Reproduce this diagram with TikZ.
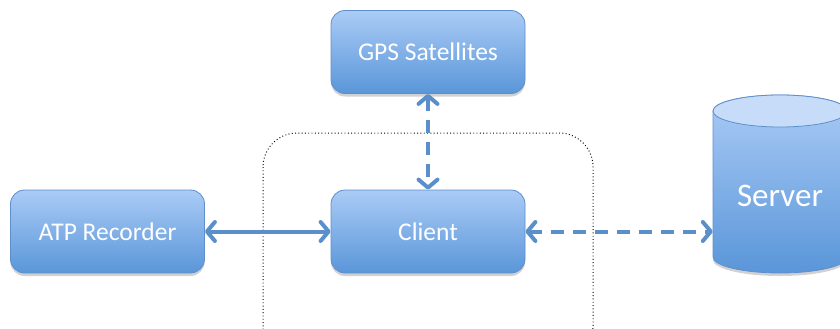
\documentclass[tikz,border=0pt]{standalone}
\usepackage{fontspec}
\setmainfont{Carlito}
\usetikzlibrary{arrows.meta,shadows}
\definecolor{boxtop}{HTML}{AACBF6}
\definecolor{boxbot}{HTML}{5A96D9}
\definecolor{boxline}{HTML}{5F8FCB}
\definecolor{linkcol}{HTML}{5B8FCA}
\definecolor{captop}{HTML}{C6DCF8}
\tikzset{
  unitbox/.style={rectangle, rounded corners=14pt, draw=boxline, line width=0.8pt,
    top color=boxtop, bottom color=boxbot, text=white, font=\fontsize{25.5}{28}\selectfont,
    minimum width=194pt, minimum height=83pt,
    drop shadow={shadow xshift=0pt, shadow yshift=-3pt, opacity=0.18, fill=black}},
  link/.style={draw=linkcol, line width=4pt,
    {Straight Barb[round,length=8pt,width=19pt]}-{Straight Barb[round,length=8pt,width=19pt]}},
  dashedlink/.style={link, dash pattern=on 13pt off 9pt},
  group/.style={draw=black, line width=1pt, dash pattern=on 0.9pt off 2.4pt, rounded corners=34pt}
}
\begin{document}
\begin{tikzpicture}[x=1pt,y=-1pt]
\clip (0,0) rectangle (840,329);
% dotted group around the client
\draw[group] (263,133) rectangle (593,360);
% boxes
\node[unitbox] (gps) at (428,52) {GPS Satellites};
\node[unitbox] (atp) at (107.5,231.5) {ATP Recorder};
\node[unitbox] (client) at (428,231.5) {Client};
% server cylinder
\fill[black, opacity=0.18] (713,114) -- (713,260) arc[start angle=180, end angle=360, x radius=67, y radius=-16] -- (847,114) -- cycle;
\shade[top color=boxtop, bottom color=boxbot, draw=boxline, line width=0.8pt]
  (713,111) -- (713,257) arc[start angle=180, end angle=360, x radius=67, y radius=-16]
  -- (847,111) arc[start angle=0, end angle=180, x radius=67, y radius=-16] -- cycle;
\draw[fill=captop, draw=boxline, line width=0.8pt] (780,111) ellipse[x radius=67, y radius=16];
\node[text=white, font=\fontsize{33}{36}\selectfont, minimum width=134pt, minimum height=178pt] (server) at (780,196) {Server};
% connectors
\draw[link] (atp.east) -- (client.west);
\draw[dashedlink] (gps.south) -- (client.north);
\draw[dashedlink] (client.east) -- (client.east -| server.west);
\end{tikzpicture}
\end{document}
